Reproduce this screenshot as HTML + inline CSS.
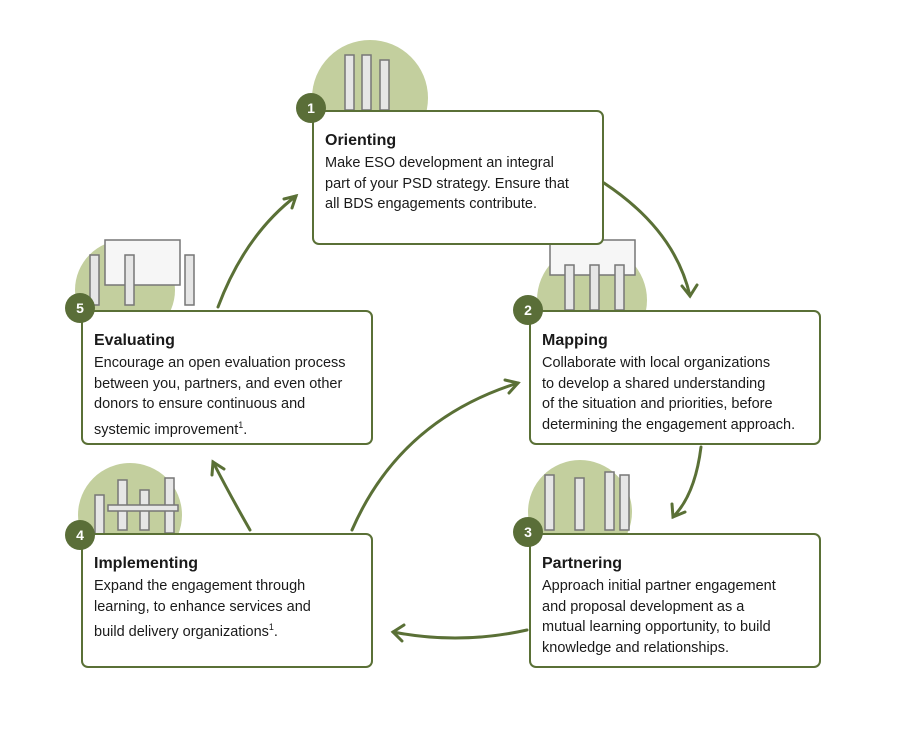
<!DOCTYPE html>
<html><head><style>
body{margin:0;width:900px;height:729px;background:#fff;position:relative;overflow:hidden;font-family:"Liberation Sans",sans-serif;color:#1a1a1a}
.box{position:absolute;width:288px;height:131px;border:2px solid #5a7036;border-radius:7px;background:#fff;box-sizing:content-box}
.box h3{margin:0;position:absolute;left:11px;top:20px;font-size:16px;font-weight:bold}
.box p{margin:0;position:absolute;left:11px;top:41px;font-size:14.5px;line-height:20.5px;white-space:nowrap}
.b{position:absolute;width:30px;height:30px;border-radius:50%;background:#5a6e38;color:#fff;font-weight:bold;font-size:14px;text-align:center;line-height:30px}
sup{font-size:9px}
</style></head><body>
<svg width="900" height="729" style="position:absolute;left:0;top:0">
<g fill="#c3cf9e">
<circle cx="370" cy="98" r="58"/>
<circle cx="592" cy="300" r="55"/>
<circle cx="580" cy="512" r="52"/>
<circle cx="130" cy="515" r="52"/>
<circle cx="125" cy="290" r="50"/>
</g>
<g stroke="#777" stroke-width="1.5" fill="#e6e6e6">
<rect x="345" y="55" width="9" height="55"/><rect x="362" y="55" width="9" height="55"/><rect x="380" y="60" width="9" height="50"/>
<rect x="105" y="240" width="75" height="45" fill="#f6f6f6"/><rect x="90" y="255" width="9" height="50"/><rect x="125" y="255" width="9" height="50"/><rect x="185" y="255" width="9" height="50"/>
<rect x="550" y="240" width="85" height="35" fill="#f6f6f6"/><rect x="565" y="265" width="9" height="45"/><rect x="590" y="265" width="9" height="45"/><rect x="615" y="265" width="9" height="45"/>
<rect x="545" y="475" width="9" height="55"/><rect x="575" y="478" width="9" height="52"/><rect x="605" y="472" width="9" height="58"/><rect x="620" y="475" width="9" height="55"/>
<rect x="95" y="495" width="9" height="40"/><rect x="118" y="480" width="9" height="50"/><rect x="140" y="490" width="9" height="40"/><rect x="165" y="478" width="9" height="55"/><rect x="108" y="505" width="70" height="6"/>
</g>
<g stroke="#5a7036" stroke-width="3" fill="none" stroke-linecap="round">
<path d="M218 307 Q245 235 296 196"/><path d="M284 199 L296 196 L292 208"/>
<path d="M604 183 Q675 230 690 296"/><path d="M682 286 L690 296 L697 285"/>
<path d="M701 447 Q695 495 673 517"/><path d="M672 504 L673 517 L685 512"/>
<path d="M527 630 Q460 645 393 632"/><path d="M404 625 L393 632 L402 641"/>
<path d="M250 530 Q230 495 213 462"/><path d="M212 475 L213 462 L224 469"/>
<path d="M352 530 Q400 420 518 383"/><path d="M505 380 L518 383 L509 393"/>
</g>
</svg>
<div class="box" style="left:312px;top:110px"><h3>Orienting</h3><p>Make ESO development an integral<br>part of your PSD strategy. Ensure that<br>all BDS engagements contribute.</p></div>
<div class="box" style="left:529px;top:310px"><h3>Mapping</h3><p>Collaborate with local organizations<br>to develop a shared understanding<br>of the situation and priorities, before<br>determining the engagement approach.</p></div>
<div class="box" style="left:529px;top:533px"><h3>Partnering</h3><p>Approach initial partner engagement<br>and proposal development as a<br>mutual learning opportunity, to build<br>knowledge and relationships.</p></div>
<div class="box" style="left:81px;top:533px"><h3>Implementing</h3><p>Expand the engagement through<br>learning, to enhance services and<br>build delivery organizations<sup>1</sup>.</p></div>
<div class="box" style="left:81px;top:310px"><h3>Evaluating</h3><p>Encourage an open evaluation process<br>between you, partners, and even other<br>donors to ensure continuous and<br>systemic improvement<sup>1</sup>.</p></div>
<div class="b" style="left:296px;top:93px">1</div>
<div class="b" style="left:513px;top:295px">2</div>
<div class="b" style="left:513px;top:517px">3</div>
<div class="b" style="left:65px;top:520px">4</div>
<div class="b" style="left:65px;top:293px">5</div>
</body></html>
